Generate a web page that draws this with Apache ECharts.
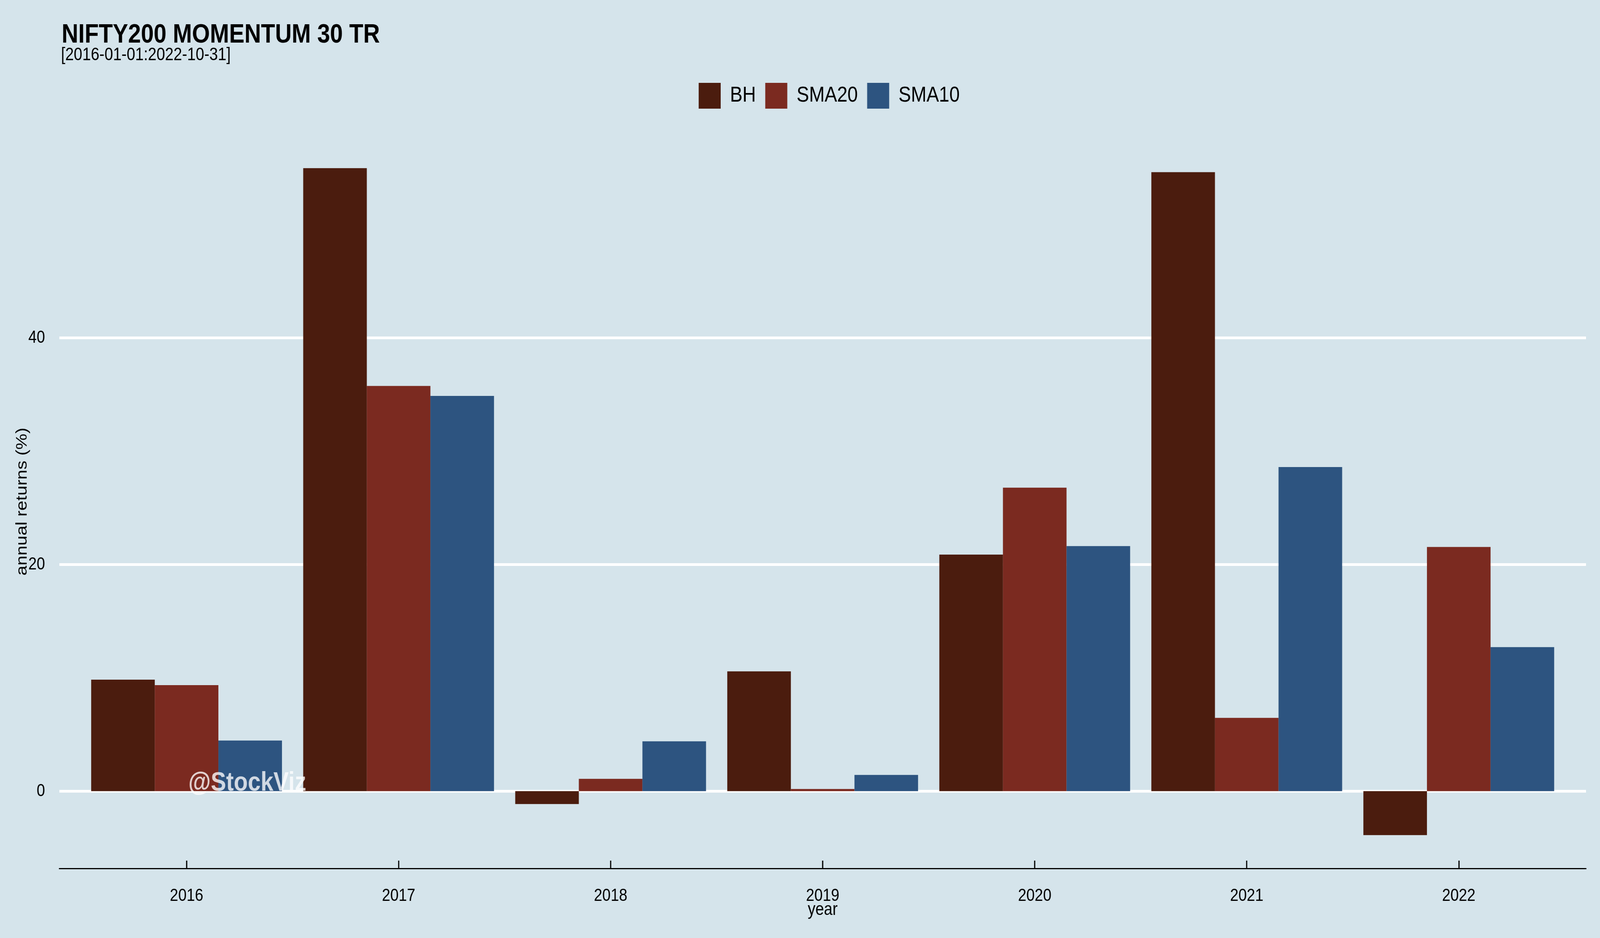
<!DOCTYPE html>
<html>
<head>
<meta charset="utf-8">
<script src="https://cdn.jsdelivr.net/npm/echarts@6/dist/echarts.min.js"></script>
<style>
html,body{margin:0;padding:0;background:#D5E4EB;overflow:hidden;width:100%;height:100%;}
#chart{position:absolute;left:0;top:0;width:4800px;height:2400px;transform-origin:0 0;}
</style>
</head>
<body>
<div id="chart"></div>
<script>
const categories = ['2016', '2017', '2018', '2019', '2020', '2021', '2022'];
const bh    = [9.84, 54.98, -1.14, 10.57, 20.88, 54.63, -3.88];
const sma20 = [9.36, 35.76, 1.09, 0.19, 26.78, 6.47, 21.55];
const sma10 = [4.47, 34.88, 4.40, 1.43, 21.63, 28.60, 12.71];
const yTicks = [0, 20, 40];
const seriesNames = ['BH', 'SMA20', 'SMA10'];
const seriesColors = ['#4B1C0E', '#7B2A20', '#2D5480'];

const FONT = 'Liberation Sans, Arial, sans-serif';

// Fit the 4800x2400 design into whatever viewport the browser actually has.
const el = document.getElementById('chart');
const vw = window.innerWidth || 4800, vh = window.innerHeight || 2400;
el.style.transform = 'scale(' + (vw / 4800) + ',' + (vh / 2400) + ')';

const xPositions = categories.map((c, i) => i + 1);
const toPairs = vals => categories.map((c, i) => [i + 1, vals[i]]);

const chart = echarts.init(el, null, {renderer: 'canvas', width: 4800, height: 2400});
chart.setOption({
  animation: false,
  backgroundColor: '#D5E4EB',
  textStyle: {fontFamily: FONT},
  title: [
    {text: 'NIFTY200 MOMENTUM 30 TR', left: 180, top: 50,
     textStyle: {fontFamily: FONT, fontSize: 69, fontWeight: 'bold', color: '#000'}},
    {text: '[2016-01-01:2022-10-31]', left: 178, top: 113,
     textStyle: {fontFamily: FONT, fontSize: 46, fontWeight: 'normal', color: '#000'}},
    {text: '@StockViz', left: 560, top: 1964,
     textStyle: {fontFamily: FONT, fontSize: 69, fontWeight: 'bold', color: 'rgba(255,255,255,0.78)'}}
  ],
  legend: {
    data: seriesNames,
    left: 2091, top: 207,
    itemWidth: 66, itemHeight: 66, itemGap: 28,
    icon: 'rect',
    textStyle: {fontFamily: FONT, fontSize: 56, color: '#000', padding: [0, 0, 0, 23]}
  },
  grid: {left: 178, right: 42, top: 345, bottom: 178, containLabel: false},
  xAxis: {
    type: 'value', min: 0.4, max: 7.6,
    name: 'year', nameLocation: 'middle', nameGap: 83, nameMoveOverlap: false,
    nameTextStyle: {fontFamily: FONT, fontSize: 46, color: '#000'},
    axisLine: {show: true, onZero: false, lineStyle: {color: '#000', width: 3}},
    axisTick: {show: true, inside: true, length: 20, customValues: xPositions, lineStyle: {color: '#000', width: 3.5}},
    axisLabel: {show: true, customValues: xPositions, margin: 48,
      fontFamily: FONT, fontSize: 45, color: '#000',
      formatter: v => categories[Math.round(v) - 1] || ''},
    splitLine: {show: false}
  },
  yAxis: {
    type: 'value', min: -6.82, max: 57.92,
    name: 'annual returns (%)', nameLocation: 'middle', nameGap: 88, nameMoveOverlap: false,
    nameTextStyle: {fontFamily: FONT, fontSize: 46, color: '#000'},
    axisLine: {show: false},
    axisTick: {show: false, customValues: yTicks},
    axisLabel: {show: true, customValues: yTicks, margin: 43,
      fontFamily: FONT, fontSize: 45, color: '#000'},
    splitLine: {show: true, lineStyle: {color: '#FFFFFF', width: 7}}
  },
  series: [
    {name: seriesNames[0], type: 'bar', data: toPairs(bh), barWidth: 190.8, barGap: '0%',
     itemStyle: {color: seriesColors[0]}},
    {name: seriesNames[1], type: 'bar', data: toPairs(sma20), barWidth: 190.8, barGap: '0%',
     itemStyle: {color: seriesColors[1]}},
    {name: seriesNames[2], type: 'bar', data: toPairs(sma10), barWidth: 190.8, barGap: '0%',
     itemStyle: {color: seriesColors[2]}}
  ]
});
</script>
</body>
</html>
